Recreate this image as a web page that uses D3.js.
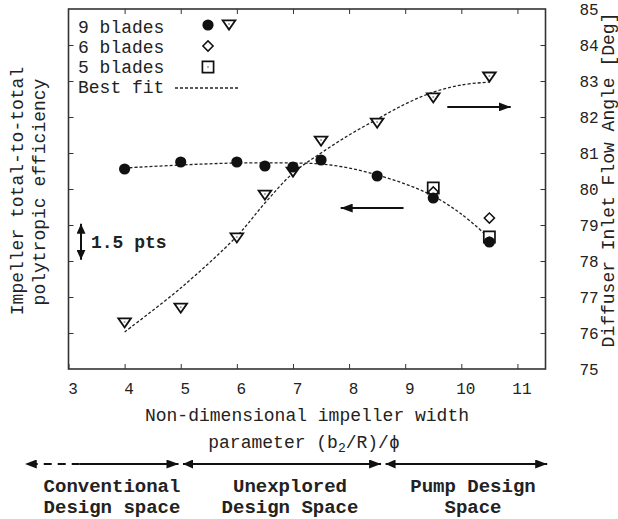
<!DOCTYPE html>
<html>
<head>
<meta charset="utf-8">
<script src="https://cdn.jsdelivr.net/npm/d3@7"></script>
<style>
  body { margin: 0; background: #fff; }
  text { font-family: "Liberation Mono", "DejaVu Sans Mono", monospace; fill: #222; }
</style>
</head>
<body>
<div class="chart"></div>
<script>
// measured points (x = non-dimensional width)
const bladeX = [4, 5, 6, 6.5, 7, 7.5, 8.5, 9.5, 10.5];
const eff9 = [8.333, 8.625, 8.625, 8.458, 8.417, 8.708, 8.042, 7.125, 5.292];
const angle9 = [76.28, 76.69, 78.64, 79.83, 80.47, 81.33, 81.83, 82.53, 83.11];
const x5 = [9.5, 10.5];
const eff5 = [7.54, 5.5];
const x6 = [9.5, 10.5];
const eff6 = [7.375, 6.29];

// best-fit curves
const effFitX = [4, 5, 6, 7, 7.5, 8, 8.5, 9, 9.5, 10, 10.5];
const effFit = [8.375, 8.5, 8.583, 8.583, 8.542, 8.375, 8.083, 7.708, 7.208, 6.458, 5.458];
const angleFitX = [4, 5, 6, 6.5, 7, 7.5, 8, 8.5, 9, 9.5, 10, 10.5];
const angleFit = [76.03, 77.25, 78.69, 79.61, 80.44, 81.0, 81.5, 81.94, 82.36, 82.69, 82.89, 82.97];

const xTicks = [3, 4, 5, 6, 7, 8, 9, 10, 11];
const angleTicks = d3.range(75, 86);
const effTicks = d3.range(0, 11).map(i => i * 1.5);

const W = 618, H = 519;
const plot = { left: 68.5, right: 545.5, top: 9, bottom: 369 };

const svg = d3.select(".chart").append("svg")
  .attr("width", W).attr("height", H);

const x = d3.scaleLinear().domain([3, 11.5]).range([plot.left, plot.right]);
const yAng = d3.scaleLinear().domain([75, 85]).range([plot.bottom, plot.top]);
const yEff = d3.scaleLinear().domain([0, 15]).range([plot.bottom, plot.top]);

// arrow heads
const defs = svg.append("defs");
function head(id, w, h) {
  defs.append("marker")
    .attr("id", id)
    .attr("markerUnits", "userSpaceOnUse")
    .attr("viewBox", `0 0 ${w} ${h}`)
    .attr("markerWidth", w).attr("markerHeight", h)
    .attr("refX", w).attr("refY", h / 2)
    .attr("orient", "auto-start-reverse")
    .append("path")
    .attr("d", `M0,0L${w},${h / 2}L0,${h}Z`)
    .attr("fill", "#111");
}
head("ah", 12, 9);
head("ah2", 10, 9);

// axes
function styleAxis(g) {
  g.select(".domain").remove();
  g.selectAll(".tick line").attr("stroke", "#333").attr("stroke-width", 1);
  g.selectAll("text").attr("font-size", 16).attr("fill", "#222")
    .attr("font-family", '"Liberation Mono", "DejaVu Sans Mono", monospace');
}

svg.append("g")
  .attr("transform", `translate(0,${plot.bottom})`)
  .call(d3.axisBottom(x).tickValues(xTicks).tickSizeInner(-5).tickSizeOuter(0).tickPadding(14))
  .call(styleAxis)
  .call(g => g.selectAll("text").attr("dx", 4));

svg.append("g")
  .attr("transform", `translate(0,${plot.top})`)
  .call(d3.axisBottom(x).tickValues(xTicks.slice(1)).tickSize(5).tickFormat(""))
  .call(styleAxis);

svg.append("g")
  .attr("transform", `translate(${plot.left},0)`)
  .call(d3.axisRight(yEff).tickValues(effTicks.slice(1, -1)).tickSize(5).tickFormat(""))
  .call(styleAxis);

svg.append("g")
  .attr("transform", `translate(${plot.right},0)`)
  .call(d3.axisRight(yAng).tickValues(angleTicks).tickSizeInner(-5).tickSizeOuter(0).tickPadding(34))
  .call(styleAxis)
  .call(g => g.selectAll(".tick").filter(d => d === 75 || d === 85).select("line").remove());

svg.append("rect")
  .attr("x", plot.left).attr("y", plot.top)
  .attr("width", plot.right - plot.left).attr("height", plot.bottom - plot.top)
  .attr("fill", "none").attr("stroke", "#333").attr("stroke-width", 1.6);

// fit curves
const fitLine = (xs, ys, yScale) => d3.line()
  .x((d, i) => x(xs[i]))
  .y(d => yScale(d))
  .curve(d3.curveCatmullRom)(ys);

svg.append("path").attr("d", fitLine(effFitX, effFit, yEff))
  .attr("fill", "none").attr("stroke", "#222").attr("stroke-width", 1.3).attr("stroke-dasharray", "3,2");
svg.append("path").attr("d", fitLine(angleFitX, angleFit, yAng))
  .attr("fill", "none").attr("stroke", "#222").attr("stroke-width", 1.3).attr("stroke-dasharray", "3,2");

// symbols
const triDown = {
  draw(ctx, size) {
    const w = Math.sqrt(size), h = w * 0.72;
    ctx.moveTo(-w / 2, -h / 2);
    ctx.lineTo(w / 2, -h / 2);
    ctx.lineTo(0, h / 2);
    ctx.closePath();
  }
};
const squareSym = d3.symbol(d3.symbolSquare).size(125)();
const diamondSym = d3.symbol(d3.symbolSquare).size(52)();
const triSym = d3.symbol(triDown).size(160)();

function drawSquare(g, cx, cy) {
  g.append("path").attr("d", squareSym).attr("transform", `translate(${cx},${cy})`)
    .attr("fill", "#fff").attr("stroke", "#111").attr("stroke-width", 1.7);
  g.append("circle").attr("cx", cx).attr("cy", cy).attr("r", 1).attr("fill", "#999");
}
function drawDiamond(g, cx, cy) {
  g.append("path").attr("d", diamondSym).attr("transform", `translate(${cx},${cy}) rotate(45)`)
    .attr("fill", "#fff").attr("stroke", "#111").attr("stroke-width", 1.5);
}
function drawTri(g, cx, cy) {
  g.append("path").attr("d", triSym).attr("transform", `translate(${cx},${cy})`)
    .attr("fill", "#fff").attr("stroke", "#111").attr("stroke-width", 1.8);
  g.append("circle").attr("cx", cx).attr("cy", cy - 1).attr("r", 1).attr("fill", "#999");
}

const marks = svg.append("g");
x5.forEach((v, i) => drawSquare(marks, x(v), yEff(eff5[i])));
x6.forEach((v, i) => drawDiamond(marks, x(v), yEff(eff6[i])));
bladeX.forEach((v, i) => drawTri(marks, x(v), yAng(angle9[i])));
marks.selectAll(".dot").data(bladeX).join("circle")
  .attr("class", "dot")
  .attr("cx", d => x(d))
  .attr("cy", (d, i) => yEff(eff9[i]))
  .attr("r", 5.6)
  .attr("fill", "#111");

// legend
const legend = svg.append("g");
const legendLabels = ["9 blades", "6 blades", "5 blades", "Best fit"];
legend.selectAll("text").data(legendLabels).join("text")
  .attr("x", 78).attr("y", (d, i) => 33 + i * 20)
  .attr("font-size", 18)
  .text(d => d);
legend.append("circle").attr("cx", 208).attr("cy", 25).attr("r", 5.6).attr("fill", "#111");
drawTri(legend, 229, 25);
drawDiamond(legend, 208, 46);
drawSquare(legend, 208, 67);
legend.append("line").attr("x1", 175).attr("x2", 239).attr("y1", 88).attr("y2", 88)
  .attr("stroke", "#222").attr("stroke-width", 1.3).attr("stroke-dasharray", "3,2");

// direction arrows
const arrow = (x1, y1, x2, y2, w, start) => {
  const l = svg.append("line")
    .attr("x1", x1).attr("y1", y1).attr("x2", x2).attr("y2", y2)
    .attr("stroke", "#111").attr("stroke-width", w)
    .attr("marker-end", "url(#ah)");
  if (start) l.attr("marker-start", "url(#ah2)");
  return l;
};
arrow(x(9.75), yAng(82.28), x(10.88), yAng(82.28), 2);
arrow(x(8.97), yAng(79.47), x(7.85), yAng(79.47), 2);

// 1.5 pts scale marker
svg.append("line")
  .attr("x1", 81).attr("x2", 81).attr("y1", yEff(6.05)).attr("y2", yEff(4.55))
  .attr("stroke", "#111").attr("stroke-width", 2)
  .attr("marker-start", "url(#ah2)").attr("marker-end", "url(#ah2)");
svg.append("text").attr("x", 91).attr("y", 248)
  .attr("font-size", 18).attr("font-weight", "bold").text("1.5 pts");

// axis titles
svg.append("text").attr("transform", "translate(23,191) rotate(-90)")
  .attr("text-anchor", "middle").attr("font-size", 18).text("Impeller total-to-total");
svg.append("text").attr("transform", "translate(45,192) rotate(-90)")
  .attr("text-anchor", "middle").attr("font-size", 18).text("polytropic efficiency");
svg.append("text").attr("transform", "translate(614,180) rotate(-90)")
  .attr("text-anchor", "middle").attr("font-size", 18).text("Diffuser Inlet Flow Angle [Deg]");

svg.append("text").attr("x", 307).attr("y", 421)
  .attr("text-anchor", "middle").attr("font-size", 18).text("Non-dimensional impeller width");
const t2 = svg.append("text").attr("x", 304).attr("y", 448)
  .attr("text-anchor", "middle").attr("font-size", 18);
t2.append("tspan").text("parameter (b");
t2.append("tspan").attr("font-size", 13).attr("dy", 4).text("2");
t2.append("tspan").attr("dy", -4).text("/R)/\u03D5");

// design-space arrows
const ay = 464;
svg.append("line").attr("x1", x(3.2)).attr("x2", x(2.22)).attr("y1", ay).attr("y2", ay)
  .attr("stroke", "#111").attr("stroke-width", 2).attr("stroke-dasharray", "8,6")
  .attr("marker-end", "url(#ah)");
arrow(x(3.2), ay, x(4.96), ay, 2);
arrow(x(5.04), ay, x(8.57), ay, 2, true);
arrow(x(8.65), ay, x(11.53), ay, 2, true);

const spaceLabels = [
  { cx: 112, lines: ["Conventional", "Design space"] },
  { cx: 290, lines: ["Unexplored", "Design Space"] },
  { cx: 473, lines: ["Pump Design", "Space"] }
];
spaceLabels.forEach(s => {
  s.lines.forEach((t, i) => {
    svg.append("text").attr("x", s.cx).attr("y", 492 + i * 21)
      .attr("text-anchor", "middle").attr("font-size", 19).attr("font-weight", "bold").text(t);
  });
});
</script>
</body>
</html>
